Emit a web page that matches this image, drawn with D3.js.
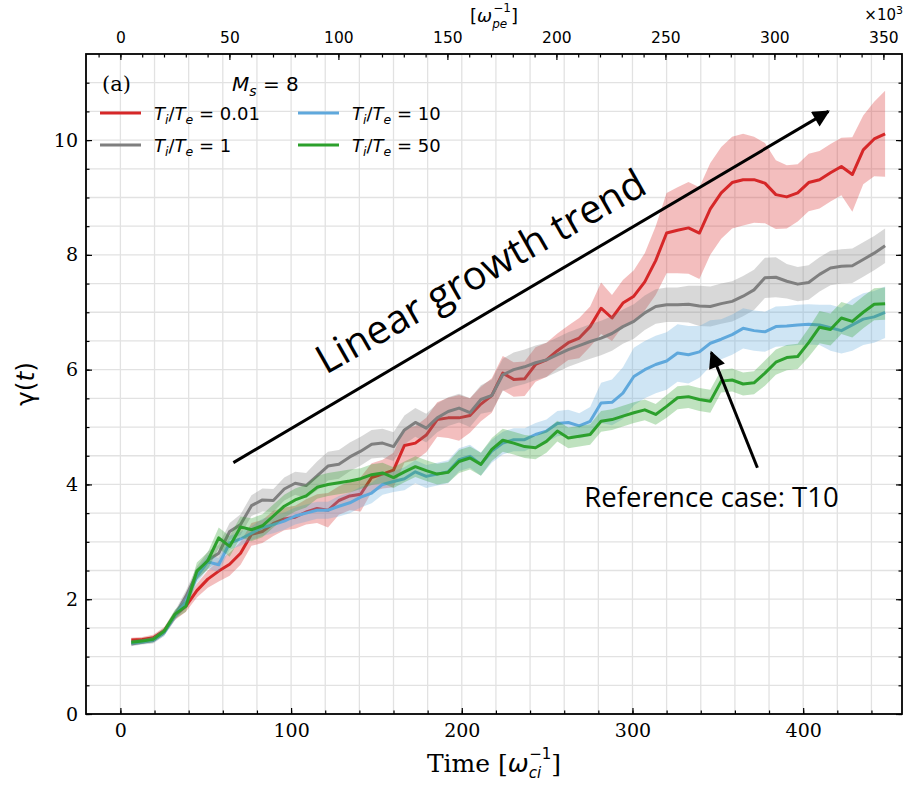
<!DOCTYPE html>
<html>
<head>
<meta charset="utf-8">
<script src="https://d3js.org/d3.v7.min.js"></script>
<title>gamma(t) vs time</title>
<style>
body { margin: 0; background: #fff; }
</style>
</head>
<body>
<script>

// time samples [1/omega_ci]
var times = [6.4, 12.8, 19.2, 25.6, 32, 38.4, 44.8, 51.2, 57.6, 64,
  70.4, 76.8, 83.2, 89.6, 96, 102.4, 108.8, 115.2, 121.6, 128,
  134.4, 140.8, 147.2, 153.6, 160, 166.4, 172.8, 179.2, 185.6, 192,
  198.4, 204.8, 211.2, 217.6, 224, 230.4, 236.8, 243.2, 249.6, 256,
  262.4, 268.8, 275.2, 281.6, 288, 294.4, 300.8, 307.2, 313.6, 320,
  326.4, 332.8, 339.2, 345.6, 352, 358.4, 364.8, 371.2, 377.6, 384,
  390.4, 396.8, 403.2, 409.6, 416, 422.4, 428.8, 435.2, 441.6, 448];

var gammaT001 = [1.29, 1.30, 1.33, 1.45, 1.72, 1.88, 2.15, 2.35, 2.49, 2.61,
  2.80, 3.13, 3.18, 3.32, 3.40, 3.43, 3.52, 3.58, 3.55, 3.72,
  3.80, 3.83, 4.12, 4.18, 4.25, 4.68, 4.72, 4.86, 5.13, 5.16,
  5.16, 5.20, 5.40, 5.55, 5.94, 5.83, 5.84, 6.09, 6.17, 6.33,
  6.47, 6.55, 6.75, 7.07, 6.90, 7.16, 7.28, 7.53, 7.90, 8.38,
  8.43, 8.47, 8.38, 8.80, 9.08, 9.26, 9.31, 9.31, 9.25, 9.05,
  9.01, 9.08, 9.26, 9.31, 9.43, 9.54, 9.40, 9.83, 10.02, 10.11];
var errT001 = [0.04, 0.04, 0.05, 0.06, 0.08, 0.1, 0.12, 0.15, 0.18, 0.2,
  0.2, 0.2, 0.2, 0.22, 0.2, 0.2, 0.22, 0.25, 0.3, 0.25,
  0.25, 0.3, 0.25, 0.25, 0.3, 0.3, 0.3, 0.3, 0.3, 0.35,
  0.4, 0.3, 0.3, 0.3, 0.3, 0.3, 0.3, 0.3, 0.3, 0.3,
  0.3, 0.35, 0.35, 0.45, 0.4, 0.4, 0.45, 0.5, 0.6, 0.7,
  0.75, 0.8, 0.8, 0.8, 0.8, 0.8, 0.8, 0.75, 0.7, 0.6,
  0.55, 0.5, 0.5, 0.5, 0.5, 0.5, 0.65, 0.6, 0.65, 0.75];

var gammaT1 = [1.22, 1.25, 1.28, 1.42, 1.72, 2.05, 2.45, 2.68, 2.80, 3.18,
  3.30, 3.63, 3.73, 3.72, 3.92, 4.02, 3.98, 4.15, 4.32, 4.35,
  4.48, 4.58, 4.70, 4.72, 4.66, 4.95, 5.08, 4.98, 5.16, 5.27,
  5.33, 5.25, 5.48, 5.55, 5.91, 6.00, 6.05, 6.12, 6.17, 6.26,
  6.35, 6.42, 6.49, 6.55, 6.63, 6.75, 6.84, 6.99, 7.10, 7.13,
  7.13, 7.14, 7.11, 7.10, 7.15, 7.19, 7.28, 7.39, 7.60, 7.61,
  7.54, 7.49, 7.52, 7.66, 7.77, 7.80, 7.81, 7.92, 8.03, 8.16];
var errT1 = [0.04, 0.04, 0.05, 0.06, 0.08, 0.1, 0.12, 0.15, 0.15, 0.15,
  0.18, 0.18, 0.2, 0.2, 0.2, 0.2, 0.22, 0.25, 0.25, 0.25,
  0.25, 0.25, 0.25, 0.25, 0.25, 0.25, 0.25, 0.25, 0.25, 0.25,
  0.25, 0.25, 0.25, 0.28, 0.28, 0.3, 0.3, 0.3, 0.3, 0.3,
  0.3, 0.3, 0.3, 0.3, 0.3, 0.3, 0.3, 0.3, 0.3, 0.3,
  0.3, 0.32, 0.35, 0.35, 0.35, 0.35, 0.35, 0.35, 0.35, 0.35,
  0.3, 0.3, 0.3, 0.3, 0.3, 0.3, 0.3, 0.3, 0.3, 0.3];

var gammaT10 = [1.24, 1.26, 1.29, 1.42, 1.72, 1.95, 2.40, 2.65, 2.60, 2.98,
  3.05, 3.15, 3.25, 3.30, 3.36, 3.45, 3.50, 3.55, 3.55, 3.62,
  3.68, 3.78, 3.85, 4.00, 4.05, 4.10, 4.22, 4.14, 4.18, 4.22,
  4.43, 4.49, 4.35, 4.58, 4.72, 4.78, 4.78, 4.87, 4.93, 5.06,
  5.08, 5.02, 5.10, 5.42, 5.43, 5.59, 5.88, 6.00, 6.09, 6.15,
  6.29, 6.26, 6.31, 6.46, 6.53, 6.61, 6.72, 6.68, 6.66, 6.75,
  6.76, 6.78, 6.79, 6.78, 6.73, 6.68, 6.78, 6.88, 6.92, 7.00];
var errT10 = [0.04, 0.04, 0.05, 0.06, 0.08, 0.1, 0.12, 0.12, 0.12, 0.12,
  0.12, 0.12, 0.15, 0.15, 0.15, 0.15, 0.15, 0.15, 0.15, 0.18,
  0.18, 0.18, 0.18, 0.18, 0.18, 0.2, 0.2, 0.2, 0.2, 0.2,
  0.2, 0.2, 0.2, 0.2, 0.2, 0.2, 0.2, 0.2, 0.2, 0.22,
  0.22, 0.22, 0.25, 0.35, 0.4, 0.45, 0.5, 0.5, 0.5, 0.5,
  0.5, 0.5, 0.45, 0.4, 0.35, 0.35, 0.35, 0.35, 0.35, 0.35,
  0.35, 0.35, 0.35, 0.35, 0.4, 0.4, 0.45, 0.45, 0.45, 0.45];

var gammaT50 = [1.25, 1.27, 1.30, 1.44, 1.74, 1.88, 2.49, 2.67, 3.07, 2.92,
  3.26, 3.21, 3.28, 3.45, 3.62, 3.73, 3.80, 3.95, 4.00, 4.03,
  4.06, 4.10, 4.17, 4.20, 4.12, 4.22, 4.31, 4.24, 4.18, 4.21,
  4.40, 4.46, 4.35, 4.61, 4.77, 4.72, 4.66, 4.64, 4.75, 4.93,
  4.81, 4.84, 4.87, 5.10, 5.13, 5.19, 5.25, 5.30, 5.22, 5.36,
  5.51, 5.53, 5.48, 5.45, 5.80, 5.82, 5.75, 5.77, 5.94, 6.13,
  6.21, 6.23, 6.47, 6.74, 6.70, 6.90, 6.84, 7.00, 7.14, 7.15];
var errT50 = [0.04, 0.04, 0.05, 0.06, 0.08, 0.1, 0.15, 0.15, 0.18, 0.18,
  0.18, 0.2, 0.2, 0.2, 0.2, 0.2, 0.2, 0.2, 0.2, 0.2,
  0.2, 0.18, 0.18, 0.18, 0.18, 0.18, 0.18, 0.18, 0.18, 0.18,
  0.2, 0.2, 0.2, 0.2, 0.2, 0.2, 0.2, 0.2, 0.2, 0.18,
  0.18, 0.18, 0.18, 0.18, 0.18, 0.18, 0.18, 0.18, 0.18, 0.2,
  0.2, 0.2, 0.2, 0.2, 0.2, 0.2, 0.2, 0.2, 0.22, 0.22,
  0.22, 0.22, 0.25, 0.28, 0.28, 0.28, 0.28, 0.28, 0.28, 0.28];

var ratioLabels = ["0.01", "1", "10", "50"];
var colors = ["#d62728", "#7f7f7f", "#5fa8dc", "#2ca02c"];

var xTicks = [0, 100, 200, 300, 400];
var yTicks = [0, 2, 4, 6, 8, 10];
var topTicks = [0, 50, 100, 150, 200, 250, 300, 350];
var pePerCi = 0.783;   // 10^3 omega_pe^-1 per omega_ci^-1

var width = 904, height = 785;
var margin = { top: 54, right: 2, bottom: 71, left: 86 };

var svg = d3.select( "body" )
  .append( "svg" )
  .attr( "width", width )
  .attr( "height", height )
  .style( "font-family", "DejaVu Serif" );

var x = d3.scaleLinear()
    .domain([-20.15, 457.9])
    .range([margin.left, width - margin.right]);
var xTop = d3.scaleLinear()
    .domain(x.domain().map(function(d) { return d * pePerCi; }))
    .range(x.range());
var y = d3.scaleLinear()
    .domain([0, 11.5])
    .range([height - margin.bottom, margin.top]);

var x0 = x.range()[0], x1 = x.range()[1];
var y0 = y.range()[0], y1 = y.range()[1];

// grid
var grid = svg.append( "g" ).attr( "stroke", "#e2e2e2" ).attr( "stroke-width", 1.3 );
grid.selectAll( "line.v" )
  .data( d3.range(0, 457, 20) )
  .enter().append( "line" )
  .attr( "x1", function(d) { return x(d); } )
  .attr( "x2", function(d) { return x(d); } )
  .attr( "y1", y0 ).attr( "y2", y1 );
grid.selectAll( "line.h" )
  .data( d3.range(0.5, 11.5, 0.5) )
  .enter().append( "line" )
  .attr( "y1", function(d) { return y(d); } )
  .attr( "y2", function(d) { return y(d); } )
  .attr( "x1", x0 ).attr( "x2", x1 );

// bands and lines
var series = [
  { v: gammaT001, e: errT001 },
  { v: gammaT1, e: errT1 },
  { v: gammaT10, e: errT10 },
  { v: gammaT50, e: errT50 }
];

var band = d3.area()
    .x( function(d) { return x(d.t); } )
    .y0( function(d) { return y(d.v - d.e); } )
    .y1( function(d) { return y(d.v + d.e); } );
var line = d3.line()
    .x( function(d) { return x(d.t); } )
    .y( function(d) { return y(d.v); } );

series.forEach( function(s, i) {
  var pts = times.map( function(t, j) { return { t: t, v: s.v[j], e: s.e[j] }; } );
  svg.append( "path" )
    .attr( "d", band(pts) )
    .attr( "fill", colors[i] )
    .attr( "fill-opacity", 0.3 );
  svg.append( "path" )
    .attr( "d", line(pts) )
    .attr( "fill", "none" )
    .attr( "stroke", colors[i] )
    .attr( "stroke-width", 3 )
    .attr( "stroke-linejoin", "round" );
});

// axes, ticks pointing inward
function styleAxis(g, fontSize, family) {
  g.select( ".domain" ).remove();
  g.selectAll( "line" ).attr( "stroke", "#000" ).attr( "stroke-width", 1.2 );
  g.selectAll( "text" ).attr( "fill", "#000" ).style( "font-size", fontSize + "px" )
    .style( "font-family", family );
}

var gx = svg.append( "g" ).attr( "transform", "translate(0," + y0 + ")" )
  .call( d3.axisBottom(x).tickValues(xTicks).tickSize(-6).tickPadding(9.5) );
styleAxis(gx, 19, "DejaVu Serif");
var gxm = svg.append( "g" ).attr( "transform", "translate(0," + y0 + ")" )
  .call( d3.axisBottom(x).tickValues(d3.range(0, 457, 20)).tickSize(-3.5).tickFormat("") );
styleAxis(gxm, 19, "DejaVu Serif");

var gy = svg.append( "g" ).attr( "transform", "translate(" + x0 + ",0)" )
  .call( d3.axisLeft(y).tickValues(yTicks).tickSize(-6).tickPadding(8) );
styleAxis(gy, 19, "DejaVu Serif");
var gym = svg.append( "g" ).attr( "transform", "translate(" + x0 + ",0)" )
  .call( d3.axisLeft(y).tickValues(d3.range(0, 11.5, 0.5)).tickSize(-3.5).tickFormat("") );
styleAxis(gym, 19, "DejaVu Serif");

var gr = svg.append( "g" ).attr( "transform", "translate(" + x1 + ",0)" )
  .call( d3.axisRight(y).tickValues(yTicks).tickSize(-6).tickFormat("") );
styleAxis(gr, 19, "DejaVu Serif");
var grm = svg.append( "g" ).attr( "transform", "translate(" + x1 + ",0)" )
  .call( d3.axisRight(y).tickValues(d3.range(0, 11.5, 0.5)).tickSize(-3.5).tickFormat("") );
styleAxis(grm, 19, "DejaVu Serif");

var gt = svg.append( "g" ).attr( "transform", "translate(0," + y1 + ")" )
  .call( d3.axisTop(xTop).tickValues(topTicks).tickSize(-6).tickPadding(11) );
styleAxis(gt, 15.5, "DejaVu Sans");
var gtm = svg.append( "g" ).attr( "transform", "translate(0," + y1 + ")" )
  .call( d3.axisTop(xTop).tickValues(d3.range(-10, 358, 10)).tickSize(-3.5).tickFormat("") );
styleAxis(gtm, 15.5, "DejaVu Sans");

// frame
svg.append( "rect" )
  .attr( "x", x0 ).attr( "y", y1 )
  .attr( "width", x1 - x0 ).attr( "height", y0 - y1 )
  .attr( "fill", "none" ).attr( "stroke", "#000" ).attr( "stroke-width", 1.8 );

// axis labels
var xl = svg.append( "text" )
  .attr( "x", (x0 + x1) / 2 ).attr( "y", 772 )
  .attr( "text-anchor", "middle" )
  .style( "font-size", "25px" );
xl.append( "tspan" ).text( "Time [" );
xl.append( "tspan" ).style( "font-family", "DejaVu Sans" ).style( "font-style", "italic" ).text( "ω" );
xl.append( "tspan" ).attr( "dy", 6 ).style( "font-size", "15px" ).style( "font-family", "DejaVu Sans" ).style( "font-style", "italic" ).text( "ci" );
xl.append( "tspan" ).attr( "dx", -12 ).attr( "dy", -19 ).style( "font-size", "15px" ).style( "font-family", "DejaVu Sans" ).text( "−1" );
xl.append( "tspan" ).attr( "dy", 13 ).text( "]" );

var yl = svg.append( "text" )
  .attr( "transform", "translate(34," + (y0 + y1) / 2 + ") rotate(-90)" )
  .attr( "text-anchor", "middle" )
  .style( "font-family", "DejaVu Sans" )
  .style( "font-size", "25px" );
yl.append( "tspan" ).text( "γ(" );
yl.append( "tspan" ).style( "font-style", "italic" ).text( "t" );
yl.append( "tspan" ).text( ")" );

var tl = svg.append( "text" )
  .attr( "x", (x0 + x1) / 2 ).attr( "y", 22 )
  .attr( "text-anchor", "middle" )
  .style( "font-family", "DejaVu Sans" )
  .style( "font-size", "18px" );
tl.append( "tspan" ).text( "[" );
tl.append( "tspan" ).style( "font-style", "italic" ).text( "ω" );
tl.append( "tspan" ).attr( "dy", 6 ).style( "font-size", "12px" ).style( "font-style", "italic" ).text( "pe" );
tl.append( "tspan" ).attr( "dx", -14 ).attr( "dy", -16 ).style( "font-size", "12px" ).text( "−1" );
tl.append( "tspan" ).attr( "dy", 10 ).text( "]" );

var sc = svg.append( "text" )
  .attr( "x", 903 ).attr( "y", 20 )
  .attr( "text-anchor", "end" )
  .style( "font-family", "DejaVu Sans" )
  .style( "font-size", "15px" );
sc.append( "tspan" ).text( "×10" );
sc.append( "tspan" ).attr( "dy", -6 ).style( "font-size", "11px" ).text( "3" );

// panel tag and Mach number
svg.append( "text" )
  .attr( "x", 102 ).attr( "y", 91 )
  .style( "font-size", "21px" )
  .text( "(a)" );
var ms = svg.append( "text" )
  .attr( "x", 232 ).attr( "y", 91 )
  .style( "font-family", "DejaVu Sans" )
  .style( "font-size", "20px" );
ms.append( "tspan" ).style( "font-style", "italic" ).text( "M" );
ms.append( "tspan" ).attr( "dy", 5 ).style( "font-size", "14px" ).style( "font-style", "italic" ).text( "s" );
ms.append( "tspan" ).attr( "dy", -5 ).text( " = 8" );

// legend, two columns
var legendPos = [[100, 113], [100, 145], [298, 113], [298, 145]];
ratioLabels.forEach( function(lab, i) {
  var p = legendPos[i];
  svg.append( "line" )
    .attr( "x1", p[0] ).attr( "x2", p[0] + 41 )
    .attr( "y1", p[1] ).attr( "y2", p[1] )
    .attr( "stroke", colors[i] ).attr( "stroke-width", 3 );
  var t = svg.append( "text" )
    .attr( "x", p[0] + 54 ).attr( "y", p[1] + 6.5 )
    .style( "font-family", "DejaVu Sans" )
    .style( "font-size", "18px" );
  t.append( "tspan" ).style( "font-style", "italic" ).text( "T" );
  t.append( "tspan" ).attr( "dy", 4 ).style( "font-size", "12.5px" ).style( "font-style", "italic" ).text( "i" );
  t.append( "tspan" ).attr( "dy", -4 ).text( "/" );
  t.append( "tspan" ).style( "font-style", "italic" ).text( "T" );
  t.append( "tspan" ).attr( "dy", 4 ).style( "font-size", "12.5px" ).style( "font-style", "italic" ).text( "e" );
  t.append( "tspan" ).attr( "dy", -4 ).text( " = " + lab );
});

// annotations
var defs = svg.append( "defs" );
defs.append( "marker" )
  .attr( "id", "head" )
  .attr( "viewBox", "0 0 10 10" )
  .attr( "refX", 9 ).attr( "refY", 5 )
  .attr( "markerUnits", "userSpaceOnUse" )
  .attr( "markerWidth", 20 ).attr( "markerHeight", 17 )
  .attr( "orient", "auto" )
  .append( "path" ).attr( "d", "M0,0 L10,5 L0,10 Z" ).attr( "fill", "#000" );

svg.append( "line" )
  .attr( "x1", x(66.2) ).attr( "y1", y(4.38) )
  .attr( "x2", x(414.8) ).attr( "y2", y(10.5) )
  .attr( "stroke", "#000" ).attr( "stroke-width", 3 )
  .attr( "marker-end", "url(#head)" );
svg.append( "line" )
  .attr( "x1", x(373.2) ).attr( "y1", y(4.29) )
  .attr( "x2", x(346.2) ).attr( "y2", y(6.3) )
  .attr( "stroke", "#000" ).attr( "stroke-width", 3 )
  .attr( "marker-end", "url(#head)" );

svg.append( "text" )
  .attr( "transform", "translate(" + x(215) + "," + y(7.5) + ") rotate(-29.5)" )
  .attr( "text-anchor", "middle" )
  .style( "font-family", "Open Sans" )
  .style( "font-size", "40px" )
  .text( "Linear growth trend" );
svg.append( "text" )
  .attr( "x", x(271.8) ).attr( "y", y(3.61) )
  .style( "font-family", "Open Sans" )
  .style( "font-size", "27.5px" )
  .text( "Reference case: T10" );

</script>
</body>
</html>
